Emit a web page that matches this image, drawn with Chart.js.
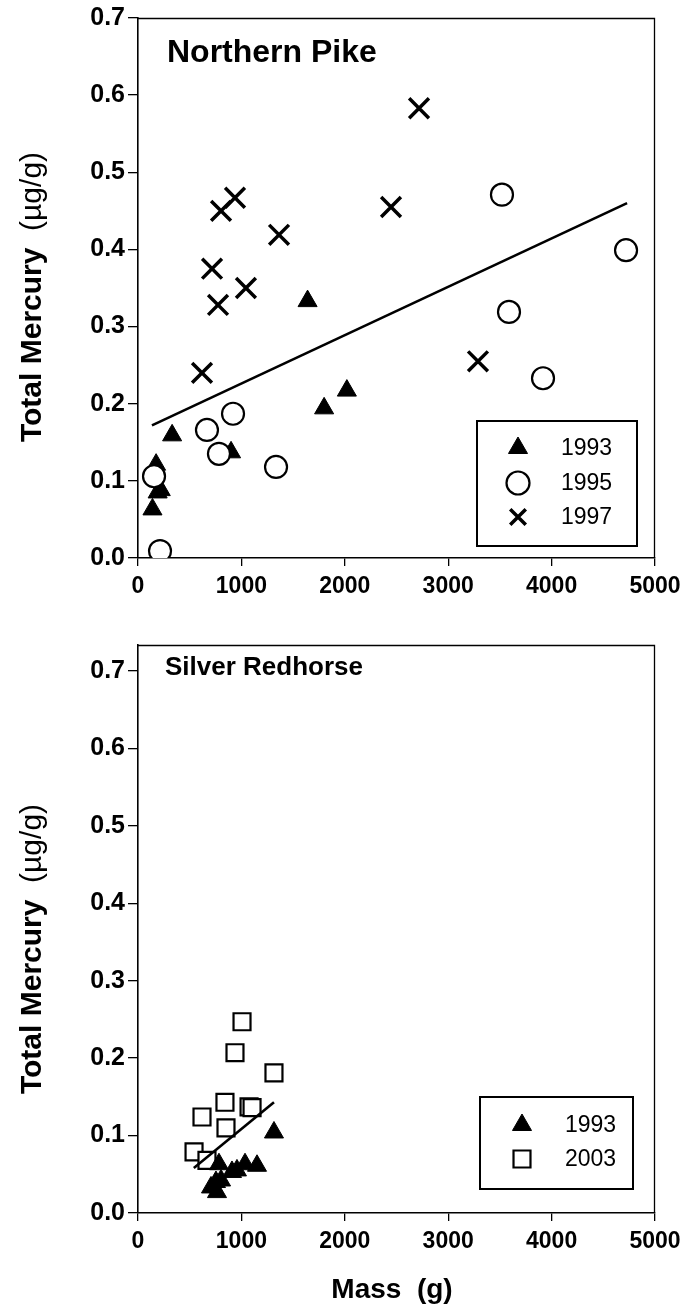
<!DOCTYPE html>
<html>
<head>
<meta charset="utf-8">
<title>Total mercury vs mass</title>
<script src="https://cdn.jsdelivr.net/npm/chart.js@4.4.1/dist/chart.umd.min.js"></script>
<style>
  html, body { margin: 0; padding: 0; background: #fff; }
  #page { position: relative; width: 683px; height: 1315px; }
  .panel { position: absolute; left: 0; width: 683px; }
  #pikePanel { top: 0; height: 620px; }
  #redPanel { top: 620px; height: 695px; }
</style>
</head>
<body>
<div id="page">
  <div class="panel" id="pikePanel"><canvas id="pikeChart"></canvas></div>
  <div class="panel" id="redPanel"><canvas id="redChart"></canvas></div>
</div>
<script>
// ---- Northern Pike: mass (g) and total mercury (µg/g) by sampling year ----
const pike1993Mass = [140, 175, 190, 220, 330, 900, 1640, 1800, 2020];
const pike1993Hg   = [0.063, 0.121, 0.085, 0.088, 0.159, 0.137, 0.333, 0.194, 0.217];
const pike1995Mass = [155, 213, 667, 783, 919, 1335, 3520, 3588, 3917, 4720];
const pike1995Hg   = [0.106, 0.009, 0.166, 0.135, 0.187, 0.118, 0.471, 0.319, 0.233, 0.399];
const pike1997Mass = [619, 716, 774, 803, 938, 1044, 1364, 2447, 2718, 3288];
const pike1997Hg   = [0.240, 0.375, 0.328, 0.450, 0.467, 0.350, 0.419, 0.455, 0.583, 0.255];
const pikeFitMass  = [135, 4730];
const pikeFitHg    = [0.172, 0.460];

// ---- Silver Redhorse ----
const red1993Mass = [706, 754, 764, 783, 803, 909, 957, 1035, 1151, 1315];
const red1993Hg   = [0.033, 0.040, 0.027, 0.063, 0.042, 0.053, 0.055, 0.063, 0.061, 0.104];
const red2003Mass = [542, 619, 667, 841, 851, 938, 1006, 1074, 1103, 1315];
const red2003Hg   = [0.079, 0.124, 0.068, 0.143, 0.110, 0.207, 0.247, 0.137, 0.136, 0.181];
const redFitMass  = [540, 1315];
const redFitHg    = [0.058, 0.143];

// ---- axis ticks ----
const massTicks = [0, 1000, 2000, 3000, 4000, 5000];
const hgTicks   = [0, 0.1, 0.2, 0.3, 0.4, 0.5, 0.6, 0.7];

const FONT = '"Liberation Sans", Arial, Helvetica, sans-serif';

function pts(xs, ys) { return xs.map((x, i) => ({ x: x, y: ys[i] })); }

const triangleStyle = { pointStyle: 'triangle', pointRadius: 11, backgroundColor: '#000', borderColor: '#000', borderWidth: 1 };
const circleStyle   = { pointStyle: 'circle', pointRadius: 11, backgroundColor: '#fff', borderColor: '#000', borderWidth: 2.2 };
const crossStyle    = { pointStyle: 'crossRot', pointRadius: 14, backgroundColor: '#000', borderColor: '#000', borderWidth: 3.5 };
const squareStyle   = { pointStyle: 'rect', pointRadius: 12, backgroundColor: '#fff', borderColor: '#000', borderWidth: 2.2 };

function fitLine(xs, ys) {
  return { type: 'line', label: 'fit', data: pts(xs, ys), showLine: true, borderColor: '#000',
           borderWidth: 2.6, pointRadius: 0, fill: false, order: 0 };
}

// Frame, panel title, rotated y title, x title and boxed legend
const decor = {
  id: 'decor',
  afterDraw(chart, args, o) {
    const ctx = chart.ctx, a = chart.chartArea;
    ctx.save();
    // top and right edges of the frame
    ctx.strokeStyle = '#000';
    ctx.lineWidth = 1.3;
    ctx.beginPath();
    ctx.moveTo(a.left, a.top + 0.5);
    ctx.lineTo(a.right - 0.5, a.top + 0.5);
    ctx.lineTo(a.right - 0.5, a.bottom);
    ctx.stroke();

    ctx.fillStyle = '#000';
    ctx.textBaseline = 'middle';
    // panel title
    ctx.textAlign = 'left';
    ctx.font = 'bold ' + o.titleSize + 'px ' + FONT;
    ctx.fillText(o.title, o.titleX, o.titleY);

    // y axis title: bold name, regular unit
    ctx.save();
    ctx.translate(o.yTitleX, o.yTitleY);
    ctx.rotate(-Math.PI / 2);
    const boldPart = 'Total Mercury  ';
    const unitPart = '(\u00b5g/g)';
    ctx.font = 'bold 30px ' + FONT;
    const wb = ctx.measureText(boldPart).width;
    ctx.font = '30px ' + FONT;
    const wu = ctx.measureText(unitPart).width;
    const x0 = -(wb + wu) / 2;
    ctx.font = 'bold 30px ' + FONT;
    ctx.fillText(boldPart, x0, 0);
    ctx.font = '30px ' + FONT;
    ctx.fillText(unitPart, x0 + wb, 0);
    ctx.restore();

    // x axis title
    if (o.xTitle) {
      ctx.textAlign = 'center';
      ctx.font = 'bold 28px ' + FONT;
      ctx.fillText(o.xTitle, o.xTitleX, o.xTitleY);
    }

    // legend
    const L = o.legend;
    ctx.lineWidth = 2;
    ctx.strokeStyle = '#000';
    ctx.strokeRect(L.x, L.y, L.w, L.h);
    ctx.textAlign = 'left';
    ctx.font = '23px ' + FONT;
    L.items.forEach((idx, i) => {
      const ds = chart.data.datasets[idx];
      const cy = L.rows[i];
      ctx.fillStyle = ds.backgroundColor;
      ctx.strokeStyle = ds.borderColor;
      ctx.lineWidth = ds.borderWidth;
      const r = (L.radius && L.radius[i]) || ds.pointRadius;
      Chart.helpers.drawPoint(ctx, { pointStyle: ds.pointStyle, radius: r, rotation: 0, borderWidth: ds.borderWidth }, L.markerX, cy);
      ctx.fillStyle = '#000';
      ctx.fillText(ds.label, L.textX, cy + 1);
    });
    ctx.restore();
  }
};

function scales(yMax, xHeight) {
  return {
    x: {
      type: 'linear', min: 0, max: 5000,
      afterBuildTicks: s => { s.ticks = massTicks.map(v => ({ value: v })); },
      afterFit: s => { s.height = xHeight; s.paddingLeft = 0; s.paddingRight = 0; },
      ticks: { color: '#000', font: { family: FONT, size: 23, weight: 'bold' }, padding: 7, maxRotation: 0,
               callback: v => String(v) },
      grid: { display: true, drawOnChartArea: false, drawTicks: true, tickLength: 8, color: '#000', lineWidth: 1.3 },
      border: { display: true, color: '#000', width: 1.6 }
    },
    y: {
      type: 'linear', min: 0, max: yMax,
      afterBuildTicks: s => { s.ticks = hgTicks.map(v => ({ value: v })); },
      afterFit: s => { s.width = 138; s.paddingTop = 0; s.paddingBottom = 0; },
      ticks: { color: '#000', font: { family: FONT, size: 25, weight: 'bold' }, padding: 3,
               callback: v => Number(v).toFixed(1) },
      grid: { display: true, drawOnChartArea: false, drawTicks: true, tickLength: 10, color: '#000', lineWidth: 1.3 },
      border: { display: true, color: '#000', width: 1.6 }
    }
  };
}

const common = { responsive: true, maintainAspectRatio: false, animation: false, devicePixelRatio: 1 };

new Chart(document.getElementById('pikeChart'), {
  type: 'scatter',
  data: {
    datasets: [
      Object.assign({ label: '1993', data: pts(pike1993Mass, pike1993Hg), order: 3 }, triangleStyle),
      Object.assign({ label: '1995', data: pts(pike1995Mass, pike1995Hg), order: 2 }, circleStyle),
      Object.assign({ label: '1997', data: pts(pike1997Mass, pike1997Hg), order: 1 }, crossStyle),
      fitLine(pikeFitMass, pikeFitHg)
    ]
  },
  options: Object.assign({}, common, {
    layout: { padding: { left: 0, right: 28, top: 18, bottom: 0 } },
    scales: scales(0.7, 62),
    plugins: {
      legend: { display: false },
      tooltip: { enabled: false },
      decor: {
        title: 'Northern Pike', titleSize: 32, titleX: 167, titleY: 53,
        yTitleX: 33, yTitleY: 297,
        legend: { x: 477, y: 421, w: 160, h: 125, markerX: 518, textX: 561,
                  rows: [448, 483, 517], items: [0, 1, 2], radius: [11, 11.5, 11] }
      }
    }
  }),
  plugins: [decor]
});

new Chart(document.getElementById('redChart'), {
  type: 'scatter',
  data: {
    datasets: [
      Object.assign({ label: '1993', data: pts(red1993Mass, red1993Hg), order: 1 }, triangleStyle),
      Object.assign({ label: '2003', data: pts(red2003Mass, red2003Hg), order: 2 }, squareStyle),
      fitLine(redFitMass, redFitHg)
    ]
  },
  options: Object.assign({}, common, {
    layout: { padding: { left: 0, right: 28, top: 25, bottom: 0 } },
    scales: scales(0.7336, 102),
    plugins: {
      legend: { display: false },
      tooltip: { enabled: false },
      decor: {
        title: 'Silver Redhorse', titleSize: 26, titleX: 165, titleY: 48,
        yTitleX: 33, yTitleY: 329,
        xTitle: 'Mass  (g)', xTitleX: 392, xTitleY: 670,
        legend: { x: 480, y: 477, w: 153, h: 92, markerX: 522, textX: 565,
                  rows: [505, 539], items: [0, 1] }
      }
    }
  }),
  plugins: [decor]
});
</script>
</body>
</html>
